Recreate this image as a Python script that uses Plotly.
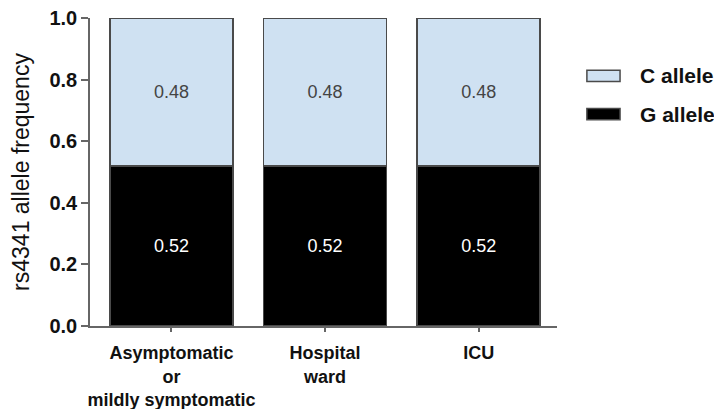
import plotly.graph_objects as go

groups = ['Asymptomatic<br>or<br>mildly symptomatic', 'Hospital<br>ward', 'ICU']
g_allele = [0.52, 0.52, 0.52]
c_allele = [0.48, 0.48, 0.48]
y_ticks = [0.0, 0.2, 0.4, 0.6, 0.8, 1.0]

C_COLOR = '#cfe1f2'
G_COLOR = '#000000'
EDGE = '#4a4a4a'
FONT = 'Liberation Sans, Arial'

# the page body has an 8px margin, so the figure is sized to fill the window after it
PAGE_PAD = 8

fig = go.Figure()
fig.add_trace(go.Bar(
    x=groups, y=g_allele, name='G allele',
    marker=dict(color=G_COLOR, line=dict(color=EDGE, width=1.5)),
    text=[f'{v:.2f}' for v in g_allele], textposition='inside',
    insidetextanchor='middle',
    textfont=dict(color='white', size=18, family=FONT),
))
fig.add_trace(go.Bar(
    x=groups, y=c_allele, name='C allele',
    marker=dict(color=C_COLOR, line=dict(color=EDGE, width=1.5)),
    text=[f'{v:.2f}' for v in c_allele], textposition='inside',
    insidetextanchor='middle',
    textfont=dict(color='#444444', size=18, family=FONT),
))

# legend drawn by hand so the swatches are wide flat boxes like the original
legend_items = [('C allele', C_COLOR, 0.812), ('G allele', G_COLOR, 0.688)]
for label, color, yc in legend_items:
    fig.add_shape(type='rect', xref='paper', yref='paper',
                  x0=1.064, x1=1.135, y0=yc - 0.018, y1=yc + 0.018,
                  fillcolor=color, line=dict(color=EDGE, width=1.5))
    fig.add_annotation(xref='paper', yref='paper', x=1.173, y=yc,
                       text=f'<b>{label}</b>', showarrow=False,
                       xanchor='left', yanchor='middle',
                       font=dict(size=21, family=FONT, color='#111111'))

fig.update_layout(
    barmode='stack',
    bargap=0.2,
    width=722 - PAGE_PAD, height=409 - PAGE_PAD,
    margin=dict(l=90 - PAGE_PAD, r=165, t=18 - PAGE_PAD, b=83),
    plot_bgcolor='white', paper_bgcolor='white',
    font=dict(family=FONT, color='#111111'),
    uniformtext=dict(mode='show', minsize=18),
    showlegend=False,
    xaxis=dict(
        range=[-0.53, 2.51], automargin=False,
        showline=True, linecolor='#666666', linewidth=1.5,
        ticks='outside', ticklen=4, tickcolor='#666666', tickwidth=1.5,
        ticklabelstandoff=6, ticklabeloverflow='allow',
        tickfont=dict(size=18, weight='bold', color='#111111'),
    ),
    yaxis=dict(
        range=[0, 1.0], tickvals=y_ticks, tickformat='.1f', automargin=False,
        showline=True, linecolor='#666666', linewidth=1.5,
        ticks='outside', ticklen=7, tickcolor='#666666', tickwidth=1.5,
        ticklabeloverflow='allow',
        showgrid=False, zeroline=False,
        tickfont=dict(size=20, weight='bold', color='#111111'),
        title=dict(text='rs4341 allele frequency', font=dict(size=23, color='#111111'), standoff=16),
    ),
)

fig.write_html("out.html")
